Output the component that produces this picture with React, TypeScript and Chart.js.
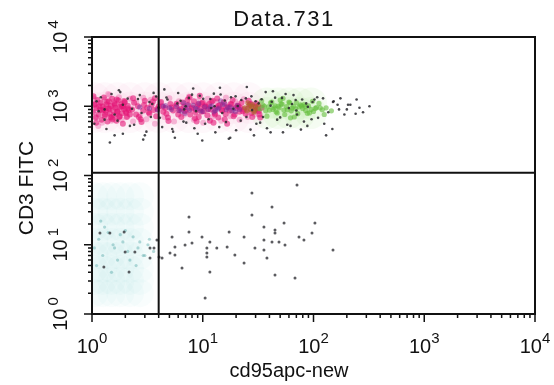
import React, { useEffect, useRef } from "react";
import { Chart, registerables } from "chart.js";

Chart.register(...registerables);

const TITLE = "Data.731";
const X_TITLE = "cd95apc-new";
const Y_TITLE = "CD3 FITC";
const DECADE_EXPONENTS = [0, 1, 2, 3, 4];
const X_GATE = 4;
const Y_GATE = 110;

// Upper population (CD3+) - pink core
const pinkX = [
  1.02, 1.05, 1.08, 1.1, 1.12, 1.15, 1.18, 1.2, 1.22, 1.25,
  1.28, 1.3, 1.33, 1.35, 1.38, 1.4, 1.42, 1.45, 1.48, 1.5,
  1.52, 1.55, 1.58, 1.6, 1.63, 1.66, 1.7, 1.73, 1.76, 1.8,
  1.83, 1.87, 1.9, 1.94, 1.98, 2.02, 2.06, 2.1, 2.15, 2.2,
  1.03, 1.09, 1.16, 1.24, 1.31, 1.37, 1.44, 1.53, 1.61, 1.69,
  1.78, 1.86, 1.95, 2.04, 2.12, 1.06, 1.27, 1.47, 1.67, 1.92,
  2.3, 2.4, 2.5, 2.6, 2.75, 2.9, 3.0, 3.15, 3.3, 3.45,
  3.6, 3.8, 4.0, 4.2, 4.4, 4.6, 4.85, 5.1, 5.4, 5.7,
  6.0, 6.3, 6.6, 6.9, 2.35, 2.65, 2.95, 3.25, 3.55, 3.9,
  4.3, 4.7, 5.2, 5.8, 6.4, 6.8, 2.8, 3.7, 4.9, 6.1,
  7.1, 7.4, 7.7, 8.0, 8.3, 8.6, 8.9, 9.2, 9.5, 9.8,
  10.2, 10.6, 11.0, 11.4, 11.8, 12.3, 12.8, 13.3, 13.8, 14.3,
  14.9, 15.5, 16.1, 16.8, 17.5, 18.2, 19.0, 19.8, 20.6, 21.5,
  22.4, 23.4, 24.4, 7.3, 7.9, 8.5, 9.1, 9.7, 10.4, 11.2,
  12.0, 12.9, 13.9, 15.0, 16.3, 17.8, 19.4, 21.0, 23.0, 7.6,
  8.8, 10.0, 11.6, 13.5, 15.8, 18.6, 21.8, 9.4, 12.5, 16.6,
  25.5, 26.5, 27.5, 28.5, 29.5, 30.5, 31.5, 32.5, 26, 28,
  30, 32, 34, 27, 33,
];
const pinkY = [
  820, 1050, 690, 940, 1230, 760, 880, 1120, 640, 990,
  1340, 720, 860, 1060, 600, 930, 1180, 780, 1010, 680,
  1280, 870, 740, 1100, 950, 620, 830, 1210, 700, 980,
  1070, 790, 560, 910, 1150, 840, 700, 1020, 880, 760,
  1400, 580, 1000, 870, 760, 1150, 920, 650, 1040, 850,
  720, 980, 1190, 800, 930, 1080, 900, 700, 1250, 1000,
  900, 1120, 760, 1000, 650, 870, 1200, 950, 780, 1050,
  880, 720, 990, 1150, 830, 940, 690, 1080, 870, 1010,
  760, 920, 1130, 850, 1310, 700, 1040, 820, 1170, 910,
  1000, 780, 960, 1090, 700, 990, 590, 1300, 610, 880,
  880, 1050, 760, 960, 1180, 820, 1000, 700, 930, 1100,
  850, 990, 740, 1080, 900, 1200, 800, 960, 690, 1040,
  880, 1140, 770, 980, 860, 1060, 720, 940, 1010, 830,
  1120, 900, 780, 1240, 920, 670, 1070, 830, 1000, 910,
  1160, 760, 1020, 870, 950, 1080, 760, 990, 850, 1350,
  600, 1130, 620, 1290, 650, 1230, 950, 1420, 580, 560,
  920, 1050, 800, 980, 860, 1100, 900, 760, 1200, 700,
  1000, 850, 950, 1080, 690,
];

// Upper population - lighter pink fringe
const pinkLightX = [
  1.04, 1.1, 1.17, 1.23, 1.3, 1.36, 1.43, 1.5, 1.58, 1.66,
  1.75, 1.85, 1.96, 2.08, 2.2, 2.35, 2.5, 2.7, 2.9, 3.1,
  3.4, 3.7, 4.1, 4.5, 5.0, 5.5, 6.1, 6.8, 7.5, 8.3,
  9.2, 10.1, 11.1, 12.2, 13.4, 14.7, 16.2, 17.8, 19.6, 21.5,
  23.5, 25.5, 27.5, 29.5, 31.5, 1.07, 1.2, 1.34, 1.52, 1.72,
  1.9, 8.7, 10.7, 12.8, 15.3, 18.0, 20.8, 24, 1.14, 1.4,
];
const pinkLightY = [
  1300, 700, 1100, 580, 1250, 820, 1450, 620, 1180, 760,
  1350, 640, 1120, 720, 1280, 600, 1150, 740, 1330, 650,
  1240, 560, 1120, 700, 1300, 600, 1180, 760, 1380, 640,
  1200, 580, 1280, 700, 1150, 620, 1330, 720, 1180, 640,
  1260, 700, 1100, 760, 950, 880, 1000, 940, 1050, 900,
  1000, 870, 1060, 920, 1010, 880, 1070, 930, 520, 1500,
];

// Upper population - purple mix
const purpleX = [
  5.2, 5.8, 6.4, 7.0, 7.6, 8.2, 8.9, 9.6, 10.4, 11.2,
  12.1, 13.0, 14.0, 15.1, 16.3, 17.6, 19.0, 20.5, 4.6, 6.1,
  7.3, 8.6, 10.0, 11.7, 13.6, 15.8, 18.3, 3.9, 4.4, 5.0,
  6.7, 9.2, 12.6, 16.9, 21.5, 2.7, 3.3, 6.9, 14.5, 19.7,
];
const purpleY = [
  900, 1000, 850, 960, 880, 1040, 920, 860, 980, 900,
  1010, 870, 940, 1060, 890, 980, 920, 1030, 1020, 870,
  1050, 930, 840, 990, 910, 1080, 860, 880, 1000, 950,
  1120, 1100, 830, 950, 900, 970, 930, 790, 1200, 840,
];

// Upper population - orange transition
const orangeX = [24, 25, 26, 27, 28, 29, 30, 31, 25.5, 27.5, 29.5, 32];
const orangeY = [950, 860, 1010, 900, 1060, 820, 980, 920, 1120, 1000, 880, 1040];

// Upper population - green tail
const greenX = [
  33, 35, 37, 39, 41, 43, 45, 47, 49, 51,
  54, 57, 60, 63, 66, 69, 72, 76, 80, 85,
  90, 95, 100, 106, 112, 120, 130, 145, 34, 38,
  42, 46, 50, 55, 61, 67, 74, 82, 92, 104,
  36, 44, 52, 58, 70, 88, 40, 48, 64, 78,
  98, 125, 53, 62, 84, 115,
];
const greenY = [
  920, 1040, 860, 980, 1120, 900, 1010, 800, 950, 1080,
  880, 990, 1150, 860, 1000, 920, 780, 1050, 930, 870,
  1010, 900, 840, 960, 1100, 890, 950, 860, 1200, 720,
  1150, 830, 1230, 760, 1120, 700, 980, 1060, 800, 930,
  1000, 950, 1070, 890, 1130, 790, 880, 1000, 940, 1010,
  1180, 760, 1300, 680, 1000, 950,
];

// Upper population - dark scattered events
const darkX = [
  1.05, 1.2, 1.35, 1.5, 1.7, 1.9, 2.1, 2.4, 2.7, 3.0,
  3.4, 3.8, 4.3, 4.8, 5.4, 6.0, 6.7, 7.5, 8.4, 9.4,
  10.5, 11.7, 13.0, 14.5, 16.2, 18.0, 20.0, 22.3, 24.8, 27.5,
  30.5, 34.0, 38.0, 42.0, 47.0, 52.0, 58.0, 64.0, 71.0, 79.0,
  88, 98, 110, 122, 136, 152, 170, 190, 215, 245,
  280, 320,
  1.1, 1.3, 1.6, 1.8, 2.2, 2.6, 3.1, 3.6, 4.1, 4.7,
  5.3, 6.3, 7.1, 8.0, 9.0, 10.1, 11.3, 12.6, 14.1, 15.8,
  17.7, 19.8, 22.0, 24.5, 27.0, 30.0, 33.0, 37.0, 41.0, 45.0,
  50, 56, 62, 69, 77, 86, 96, 108, 125, 148,
  175, 205, 240,
  1.15, 1.45, 1.75, 2.3, 2.9, 3.5, 4.5, 5.6, 6.8, 8.2,
  9.9, 11.9, 14.3, 17.2, 20.7, 25, 29, 35, 43, 53,
  66, 82, 102, 130, 165, 200,
  1.3, 1.9, 2.8, 4.0, 5.9, 8.7, 12.8, 18.9, 27.9, 41,
  60, 89, 1.6, 3.3, 7.0, 15, 32, 70, 150, 260,
];
const darkY = [
  560, 1350, 470, 1500, 620, 400, 1290, 540, 1450, 380,
  700, 1380, 500, 1250, 430, 1550, 600, 1320, 480, 1420,
  560, 1270, 420, 1480, 590, 1350, 450, 1230, 700, 1390,
  560, 1260, 480, 1160, 640, 1320, 540, 1080, 760, 1250,
  520, 1150, 680, 1300, 820, 1180, 900, 760, 1050, 1250,
  820, 1000,
  1180, 640, 380, 1600, 520, 1270, 430, 1560, 680, 1340,
  470, 1200, 580, 1470, 400, 1280, 650, 1520, 500, 1210,
  350, 1390, 620, 1300, 460, 1180, 580, 1600, 420, 1330,
  690, 1500, 520, 1230, 460, 1100, 650, 1350, 560, 470,
  1300, 1050, 780,
  850, 300, 1700, 920, 330, 1080, 1750, 350, 900, 1800,
  320, 940, 1850, 340, 1010, 1900, 380, 700, 1650, 420,
  1450, 600, 1250, 380, 1050, 900,
  900, 1050, 800, 960, 1100, 850, 1000, 920, 880, 1020,
  940, 980, 760, 1150, 1000, 800, 1100, 870, 1150, 950,
];

// Lower population (CD3-) - dark events
const lowX = [
  27.8, 42.2, 27.8, 7.51, 54.2, 103, 35.7, 17.3, 7.51, 1.18,
  1.45, 1.95, 44.9, 96.9, 74.0, 9.85, 23.6, 5.28, 3.86, 35.7,
  42.2, 48.8, 11.6, 8.0, 6.92, 5.61, 82.0, 55.3, 16.6, 10.9,
  13.4, 29.6, 35.7, 2.44, 1.99, 3.34, 3.63, 5.06, 5.61, 10.9,
  10.9, 19.5, 38.0, 4.03, 4.29, 3.34, 1.28, 6.5, 11.6, 23.6,
  2.16, 44.9, 68.1, 10.5, 71.0, 150, 44.9,
];
const lowY = [
  55.9, 35.1, 26.9, 25.2, 20.6, 20.6, 18.0, 15.3, 15.3, 14.8,
  14.8, 15.3, 14.8, 14.8, 12.9, 12.9, 12.9, 12.9, 11.7, 11.7,
  11.0, 11.0, 11.0, 10.6, 9.92, 9.28, 11.7, 9.92, 9.28, 8.98,
  8.98, 8.98, 8.4, 7.86, 7.86, 8.98, 8.98, 7.6, 7.11, 7.6,
  6.65, 7.11, 6.44, 6.65, 6.44, 6.44, 4.77, 4.62, 4.04, 5.45,
  4.04, 3.66, 3.31, 1.7, 72.9, 8.4, 16.3,
];

// Lower-left population - cyan events
const cyanX = [
  1.05, 1.15, 1.25, 1.4, 1.55, 1.7, 1.9, 2.1, 2.35, 2.6,
  2.9, 3.2, 3.6, 1.1, 1.3, 1.5, 1.8, 2.2, 2.7, 3.3,
  1.2, 1.6, 2.0, 2.5, 3.0,
];
const cyanY = [
  9, 12, 7, 15, 10, 6, 11, 8, 13, 9,
  7, 10, 8, 5, 18, 4, 14, 6, 11, 12,
  22, 9, 16, 5, 7,
];

// Density haze (soft background glow of the populations)
const cyanHazeX = [
  1.05, 1.25, 1.5, 1.8, 2.2, 2.7, 1.05, 1.25, 1.5, 1.8, 2.2, 2.7,
  1.05, 1.25, 1.5, 1.8, 2.2, 2.7, 1.05, 1.25, 1.5, 1.8, 2.2, 2.7,
  1.05, 1.25, 1.5, 1.8, 2.2, 2.7, 1.05, 1.25, 1.5, 1.8, 2.2, 2.7,
  1.05, 1.25, 1.5, 1.8, 2.2, 2.7, 1.05, 1.25, 1.5, 1.8, 2.2, 2.7,
];
const cyanHazeY = [
  50, 50, 50, 50, 50, 50, 30, 30, 30, 30, 30, 30,
  18, 18, 18, 18, 18, 18, 11, 11, 11, 11, 11, 11,
  7, 7, 7, 7, 7, 7, 4.5, 4.5, 4.5, 4.5, 4.5, 4.5,
  3, 3, 3, 3, 3, 3, 2, 2, 2, 2, 2, 2,
];
const pinkHazeX = [
  1.05, 1.3, 1.7, 2.2, 3, 4, 5.5, 7.5, 10, 14, 19, 26,
  1.05, 1.3, 1.7, 2.2, 3, 4, 5.5, 7.5, 10, 14, 19, 26,
  1.05, 1.3, 1.7, 2.2, 3, 4, 5.5, 7.5, 10, 14, 19, 26,
];
const pinkHazeY = [
  700, 700, 700, 700, 700, 700, 700, 700, 700, 700, 700, 700,
  950, 950, 950, 950, 950, 950, 950, 950, 950, 950, 950, 950,
  1300, 1300, 1300, 1300, 1300, 1300, 1300, 1300, 1300, 1300, 1300, 1300,
];
const greenHazeX = [38, 48, 60, 75, 95, 38, 48, 60, 75, 95];
const greenHazeY = [800, 800, 800, 800, 800, 1100, 1100, 1100, 1100, 1100];

const FONT = '"Liberation Sans", Arial, sans-serif';

function pts(xs: number[], ys: number[]) {
  const n = Math.min(xs.length, ys.length);
  const out: { x: number; y: number }[] = [];
  for (let i = 0; i < n; i++) out.push({ x: xs[i], y: ys[i] });
  return out;
}

const overlayPlugin = {
  id: "overlay",
  beforeDraw(chart: any) {
    const ctx = chart.ctx;
    ctx.save();
    ctx.fillStyle = "#ffffff";
    ctx.fillRect(0, 0, chart.width, chart.height);
    ctx.restore();
  },
  afterDatasetsDraw(chart: any) {
    const ctx = chart.ctx as CanvasRenderingContext2D;
    const { left, right, top, bottom } = chart.chartArea;
    const xs = chart.scales.x;
    const ys = chart.scales.y;
    ctx.save();
    ctx.strokeStyle = "#111";
    ctx.lineWidth = 2;
    ctx.strokeRect(left, top, right - left, bottom - top);
    const gx = xs.getPixelForValue(X_GATE);
    const gy = ys.getPixelForValue(Y_GATE);
    ctx.beginPath();
    ctx.moveTo(gx, top);
    ctx.lineTo(gx, bottom);
    ctx.moveTo(left, gy);
    ctx.lineTo(right, gy);
    ctx.stroke();

    // tick marks
    ctx.lineWidth = 1.5;
    ctx.beginPath();
    for (const e of DECADE_EXPONENTS) {
      for (let k = 1; k <= 9; k++) {
        if (e === 4 && k > 1) break;
        const v = k * Math.pow(10, e);
        const len = k === 1 ? 8 : 4;
        const px = xs.getPixelForValue(v);
        ctx.moveTo(px, bottom);
        ctx.lineTo(px, bottom + len);
        const py = ys.getPixelForValue(v);
        ctx.moveTo(left, py);
        ctx.lineTo(left - len, py);
      }
    }
    ctx.stroke();

    // tick labels
    ctx.fillStyle = "#111";
    ctx.textBaseline = "alphabetic";
    ctx.textAlign = "left";
    const baseFont = "20px " + FONT;
    const expFont = "15px " + FONT;
    for (const e of DECADE_EXPONENTS) {
      const v = Math.pow(10, e);
      ctx.font = baseFont;
      const w1 = ctx.measureText("10").width;
      ctx.font = expFont;
      const w2 = ctx.measureText(String(e)).width;
      // x-axis
      const px = xs.getPixelForValue(v);
      const sx = px - (w1 + w2) / 2;
      ctx.font = baseFont;
      ctx.fillText("10", sx, 353);
      ctx.font = expFont;
      ctx.fillText(String(e), sx + w1, 343);
      // y-axis (rotated)
      const py = ys.getPixelForValue(v);
      const gap = 3;
      ctx.save();
      ctx.translate(67, py);
      ctx.rotate(-Math.PI / 2);
      const sy = -(w1 + gap + w2) / 2;
      ctx.font = baseFont;
      ctx.fillText("10", sy, 0);
      ctx.font = expFont;
      ctx.fillText(String(e), sy + w1 + gap, -9);
      ctx.restore();
    }

    // titles
    ctx.textAlign = "center";
    ctx.font = "22px " + FONT;
    (ctx as any).letterSpacing = "1.5px";
    ctx.fillText(TITLE, 284, 26);
    (ctx as any).letterSpacing = "0px";
    ctx.font = "20px " + FONT;
    ctx.fillText(X_TITLE, 289, 377);
    ctx.save();
    ctx.translate(33, 188);
    ctx.rotate(-Math.PI / 2);
    ctx.font = "21px " + FONT;
    ctx.fillText(Y_TITLE, 0, 0);
    ctx.restore();
    ctx.restore();
  },
};

export default function App() {
  const ref = useRef<HTMLCanvasElement | null>(null);
  useEffect(() => {
    if (!ref.current) return;
    const mk = (data: any[], color: string, radius: number, extra: any = {}) => ({
      data,
      backgroundColor: color,
      pointBackgroundColor: color,
      pointRadius: radius,
      pointBorderWidth: 0,
      borderWidth: 0,
      ...extra,
    });
    const chart = new Chart(ref.current, {
      type: "scatter",
      data: {
        datasets: [
          mk(pts(darkX, darkY), "rgba(40,40,45,0.85)", 1.3),
          mk(pts(lowX, lowY), "rgba(50,50,55,0.8)", 1.5),
          mk(pts(greenX, greenY), "rgba(100,190,60,0.6)", 2.6),
          mk(pts(orangeX, orangeY), "rgba(170,105,40,0.6)", 2.6),
          mk(pts(purpleX, purpleY), "rgba(120,45,150,0.45)", 2.6),
          mk(pts(pinkX, pinkY), "rgba(228,22,118,0.6)", 3),
          mk(pts(pinkLightX, pinkLightY), "rgba(238,110,175,0.45)", 3),
          mk(pts(cyanX, cyanY), "rgba(90,170,170,0.45)", 1.6),
          mk(pts(greenHazeX, greenHazeY), "rgba(170,230,150,0.12)", 16, { clip: 0 }),
          mk(pts(pinkHazeX, pinkHazeY), "rgba(240,160,205,0.07)", 16, { clip: 0 }),
          mk(pts(cyanHazeX, cyanHazeY), "rgba(165,222,224,0.07)", 14, { clip: 0 }),
        ],
      },
      options: {
        animation: false,
        responsive: false,
        events: [],
        layout: { padding: { left: 0, right: 19, top: 37, bottom: 0 } },
        plugins: { legend: { display: false }, tooltip: { enabled: false }, title: { display: false } },
        scales: {
          x: {
            type: "logarithmic",
            min: 1,
            max: 10000,
            ticks: { display: false },
            grid: { display: false },
            border: { display: false },
            afterFit: (s: any) => {
              s.height = 71;
            },
          },
          y: {
            type: "logarithmic",
            min: 1,
            max: 10000,
            ticks: { display: false },
            grid: { display: false },
            border: { display: false },
            afterFit: (s: any) => {
              s.width = 92;
            },
          },
        },
      },
      plugins: [overlayPlugin],
    } as any);
    return () => chart.destroy();
  }, []);
  return (
    <div style={{ position: "fixed", left: 0, top: 0, width: 554, height: 385 }}>
      <canvas ref={ref} width={554} height={385} />
    </div>
  );
}
